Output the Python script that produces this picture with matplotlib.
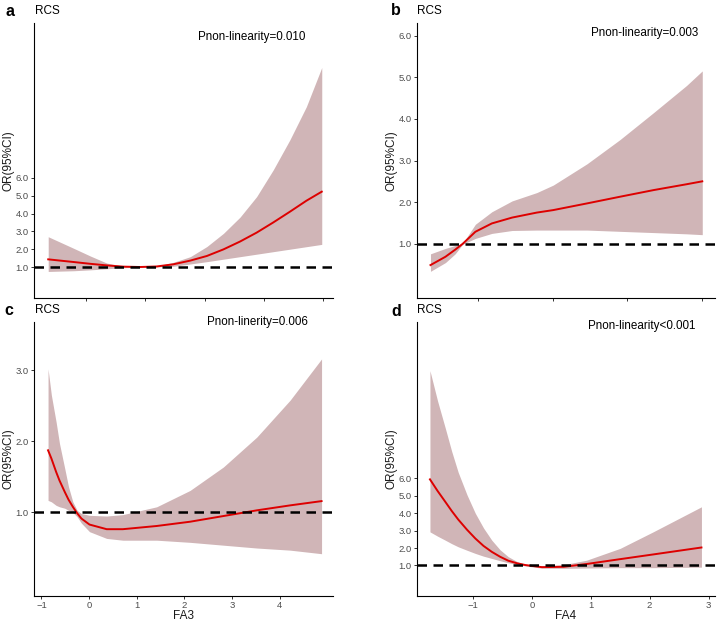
import matplotlib
matplotlib.use("Agg")
import matplotlib.pyplot as plt

plt.rcParams['font.family'] = ['Liberation Sans', 'DejaVu Sans']

W, H = 719, 621

# panel a (FA1, x tick labels hidden in the original)
a_x = [0.36, 0.79, 1.07, 1.35, 1.63, 1.91, 2.19, 2.47, 2.76, 3.04, 3.32, 3.60, 3.88, 4.16, 4.44, 4.72, 4.98]
a_or = [1.43, 1.28, 1.18, 1.09, 1.02, 1.00, 1.03, 1.15, 1.36, 1.62, 1.99, 2.43, 2.93, 3.50, 4.10, 4.72, 5.23]
a_hi = [2.70, 2.05, 1.62, 1.22, 1.05, 1.01, 1.05, 1.26, 1.58, 2.15, 2.89, 3.80, 4.95, 6.45, 8.13, 10.0, 12.2]
a_lo = [0.75, 0.79, 0.84, 0.90, 0.96, 0.99, 1.01, 1.04, 1.17, 1.30, 1.44, 1.58, 1.72, 1.86, 2.00, 2.14, 2.27]

# panel b (FA2)
b_x = [0.37, 0.57, 0.70, 0.80, 0.97, 1.19, 1.46, 1.79, 2.01, 2.46, 2.90, 3.35, 3.79, 4.00]
b_or = [0.49, 0.69, 0.86, 1.00, 1.29, 1.49, 1.63, 1.75, 1.81, 1.97, 2.13, 2.29, 2.43, 2.50]
b_hi = [0.76, 0.89, 0.96, 1.01, 1.47, 1.77, 2.03, 2.23, 2.41, 2.92, 3.50, 4.15, 4.80, 5.15]
b_lo = [0.34, 0.55, 0.76, 0.99, 1.13, 1.25, 1.32, 1.33, 1.33, 1.33, 1.30, 1.27, 1.24, 1.22]

# panel c (FA3)
c_x = [-0.86, -0.79, -0.69, -0.62, -0.51, -0.43, -0.34, -0.25, -0.16, 0.01, 0.37, 0.71, 1.42, 2.12, 2.82, 3.52, 4.22, 4.88]
c_or = [1.875, 1.76, 1.57, 1.45, 1.29, 1.18, 1.08, 0.99, 0.915, 0.83, 0.765, 0.765, 0.81, 0.87, 0.95, 1.03, 1.10, 1.16]
c_hi = [3.02, 2.65, 2.27, 1.97, 1.62, 1.36, 1.15, 1.03, 0.985, 0.96, 0.95, 0.97, 1.08, 1.31, 1.64, 2.06, 2.58, 3.16]
c_lo = [1.17, 1.15, 1.10, 1.08, 1.06, 1.03, 1.00, 0.94, 0.85, 0.73, 0.635, 0.61, 0.61, 0.58, 0.54, 0.50, 0.47, 0.42]

# panel d (FA4)
d_x = [-1.73, -1.60, -1.47, -1.36, -1.25, -1.10, -0.96, -0.82, -0.68, -0.54, -0.40, -0.25, -0.11, 0.17, 0.54, 0.93, 1.50, 2.06, 2.88]
d_or = [5.95, 5.28, 4.66, 4.13, 3.64, 3.05, 2.55, 2.12, 1.78, 1.50, 1.27, 1.12, 1.02, 0.90, 0.92, 1.08, 1.36, 1.63, 2.03]
d_hi = [12.2, 10.45, 8.9, 7.55, 6.35, 5.05, 4.0, 3.15, 2.45, 1.90, 1.50, 1.22, 1.07, 0.98, 1.04, 1.30, 1.98, 2.93, 4.37]
d_lo = [2.93, 2.68, 2.45, 2.25, 2.07, 1.87, 1.69, 1.53, 1.40, 1.27, 1.15, 1.05, 0.97, 0.84, 0.83, 0.85, 0.87, 0.87, 0.90]

letters = ['a', 'b', 'c', 'd']
p_texts = ['Pnon-linearity=0.010', 'Pnon-linearity=0.003',
           'Pnon-linerity=0.006', 'Pnon-linearity<0.001']
x_labels = ['', '', 'FA3', 'FA4']
y_ticks = [[1, 2, 3, 4, 5, 6], [1, 2, 3, 4, 5, 6], [1, 2, 3], [1, 2, 3, 4, 5, 6]]
x_ticks = [[1, 2, 3, 4, 5], [1, 2, 3, 4], [-1, 0, 1, 2, 3, 4], [-1, 0, 1, 2, 3]]

FILL = '#D0B5B7'
RED = '#DD0000'

# layout in pixels: axes box (left, top, right, bottom), x/y limits, text anchors
panels = [
    dict(x=a_x, y=a_or, lo=a_lo, hi=a_hi, box=(34, 23, 333, 298),
         xlim=(0.12, 5.17), ylim=(-0.74, 14.7),
         letter=(5, 16), rcs=(35, 14), ptxt=(252, 40)),
    dict(x=b_x, y=b_or, lo=b_lo, hi=b_hi, box=(417, 23, 715, 298),
         xlim=(0.19, 4.17), ylim=(-0.30, 6.3),
         letter=(391, 15), rcs=(417, 14), ptxt=(645, 36)),
    dict(x=c_x, y=c_or, lo=c_lo, hi=c_hi, box=(34, 322, 333, 596),
         xlim=(-1.155, 5.12), ylim=(-0.175, 3.68),
         letter=(4, 315), rcs=(35, 313), ptxt=(257, 325)),
    dict(x=d_x, y=d_or, lo=d_lo, hi=d_hi, box=(417, 322, 715, 596),
         xlim=(-1.95, 3.11), ylim=(-0.76, 15.0),
         letter=(391, 316), rcs=(417, 313), ptxt=(642, 329)),
]

fig = plt.figure(figsize=(W / 100, H / 100), dpi=100)

for i, p in enumerate(panels):
    l, t, r, b = p['box']
    ax = fig.add_axes([l / W, 1 - b / H, (r - l) / W, (b - t) / H])

    ax.fill_between(p['x'], p['lo'], p['hi'], color=FILL, lw=0)
    ax.plot(p['x'], p['y'], color=RED, lw=1.4, zorder=3)
    ax.axhline(1, color='black', lw=1.8, ls=(0, (3.8, 2.6)), zorder=4)

    ax.set_xlim(*p['xlim'])
    ax.set_ylim(*p['ylim'])
    ax.set_yticks(y_ticks[i])
    ax.set_yticklabels(['%.1f' % v for v in y_ticks[i]])
    ax.set_xticks(x_ticks[i])

    for s in ['top', 'right']:
        ax.spines[s].set_visible(False)
    for s in ['left', 'bottom']:
        ax.spines[s].set_linewidth(0.8)
        ax.spines[s].set_color('black')

    ax.tick_params(direction='out', length=2.5, width=0.7, color='#333333',
                   labelsize=6.8, labelcolor='#4D4D4D', pad=1.2)
    if i < 2:
        ax.tick_params(axis='x', labelbottom=False)
    else:
        fig.text((l + r) / 2 / W, 1 - 619 / H, x_labels[i], fontsize=8.5,
                 ha='center', va='baseline', color='#1A1A1A')

    ax.set_ylabel('OR(95%CI)', fontsize=8.5, color='#1A1A1A')
    ax.yaxis.set_label_coords(-0.066, 0.5)

    lx, ly = p['letter']
    fig.text(lx / W, 1 - ly / H, letters[i], fontsize=11.5, fontweight='bold',
             ha='left', va='baseline')
    rx, ry = p['rcs']
    fig.text(rx / W, 1 - ry / H, 'RCS', fontsize=8.5, ha='left', va='baseline')
    tx, ty = p['ptxt']
    fig.text(tx / W, 1 - ty / H, p_texts[i], fontsize=8.4, ha='center', va='baseline')

fig.savefig('out.png', dpi=100, facecolor='white')
